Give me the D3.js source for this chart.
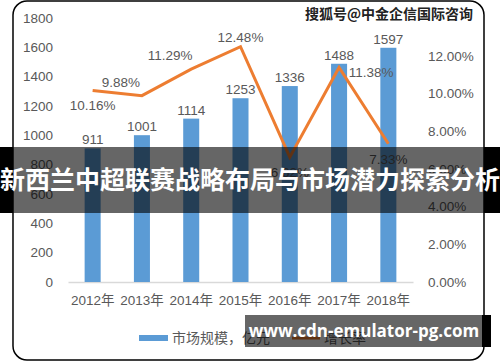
<!DOCTYPE html>
<html>
<head>
<meta charset="utf-8">
<script src="https://cdn.jsdelivr.net/npm/d3@7"></script>
<style>
  body { margin: 0; background: #fff; }
  svg { display: block; }
  text { font-family: "Liberation Sans", "Noto Sans CJK SC", sans-serif; }
</style>
</head>
<body>
<div id="chart"></div>
<script>
const years = ['2012年', '2013年', '2014年', '2015年', '2016年', '2017年', '2018年'];
const marketSize = [911, 1001, 1114, 1253, 1336, 1488, 1597];
const growthRate = [0.1016, 0.0988, 0.1129, 0.1248, 0.0662, 0.1138, 0.0733];
const leftTicks = [0, 200, 400, 600, 800, 1000, 1200, 1400, 1600, 1800];
const rightTicks = [0, 0.02, 0.04, 0.06, 0.08, 0.10, 0.12];
const ratePlacement = ['below', 'left', 'left', 'above', 'below', 'right', 'below'];

const width = 500, height = 362;
const svg = d3.select('#chart').append('svg')
    .attr('width', width)
    .attr('height', height);

// frame
svg.append('rect')
    .attr('x', 13).attr('y', 1)
    .attr('width', 471).attr('height', 359)
    .attr('rx', 14)
    .attr('fill', '#fff')
    .attr('stroke', '#000')
    .attr('stroke-width', 1.5);

const x = d3.scaleBand()
    .domain(years)
    .range([68, 413])
    .paddingInner(0.675)
    .paddingOuter(0.3375);

const yLeft = d3.scaleLinear().domain([0, 1800]).range([282, 18]);
const yRight = d3.scaleLinear().domain([0, 0.14]).range([282, 18]);

const grey = '#595959';

// axes
const leftAxis = svg.append('g')
    .attr('transform', 'translate(53,0)')
    .call(d3.axisLeft(yLeft).tickValues(leftTicks).tickFormat(d3.format('d')).tickSize(0).tickPadding(0));
leftAxis.select('.domain').remove();
leftAxis.selectAll('text').attr('fill', grey).style('font-size', '13.5px');

const rightAxis = svg.append('g')
    .attr('transform', 'translate(428,0)')
    .call(d3.axisRight(yRight).tickValues(rightTicks).tickFormat(d3.format('.2%')).tickSize(0).tickPadding(0));
rightAxis.select('.domain').remove();
rightAxis.selectAll('text').attr('fill', grey).style('font-size', '13.5px');

const bottomAxis = svg.append('g')
    .attr('transform', 'translate(0,282)')
    .call(d3.axisBottom(x).tickSize(0).tickPadding(13));
bottomAxis.select('.domain').attr('stroke', '#d9d9d9').attr('stroke-width', 1.5);
bottomAxis.selectAll('text').attr('fill', grey).style('font-size', '13.5px');

// bars
svg.selectAll('.bar')
    .data(marketSize)
    .enter()
    .append('rect')
    .attr('class', 'bar')
    .attr('x', (d, i) => x(years[i]))
    .attr('y', d => yLeft(d))
    .attr('width', x.bandwidth())
    .attr('height', d => yLeft(0) - yLeft(d))
    .attr('fill', '#5b9bd5');

svg.selectAll('.bar-label')
    .data(marketSize)
    .enter()
    .append('text')
    .attr('class', 'bar-label')
    .attr('x', (d, i) => x(years[i]) + x.bandwidth() / 2)
    .attr('y', d => yLeft(d) - 4)
    .attr('text-anchor', 'middle')
    .attr('fill', grey)
    .style('font-size', '13.5px')
    .text(d => d);

// growth line
const cx = i => x(years[i]) + x.bandwidth() / 2;
const line = d3.line()
    .x((d, i) => cx(i))
    .y(d => yRight(d));

svg.append('path')
    .datum(growthRate)
    .attr('d', line)
    .attr('fill', 'none')
    .attr('stroke', '#ed7d31')
    .attr('stroke-width', 3)
    .attr('stroke-linejoin', 'miter');

const offsets = {
    below: [0, 20],
    above: [0, -5],
    left: [-21, -9],
    right: [32, 10]
};
svg.selectAll('.rate-label')
    .data(growthRate)
    .enter()
    .append('text')
    .attr('class', 'rate-label')
    .attr('x', (d, i) => cx(i) + offsets[ratePlacement[i]][0])
    .attr('y', (d, i) => yRight(d) + offsets[ratePlacement[i]][1])
    .attr('text-anchor', 'middle')
    .attr('fill', grey)
    .style('font-size', '13.5px')
    .text(d => d3.format('.2%')(d));

// legend
const legend = svg.append('g');
legend.append('rect')
    .attr('x', 139).attr('y', 335)
    .attr('width', 29).attr('height', 6)
    .attr('fill', '#5b9bd5');
legend.append('text')
    .attr('x', 172).attr('y', 343)
    .attr('fill', grey)
    .style('font-size', '14px')
    .text('市场规模，亿元');
legend.append('line')
    .attr('x1', 292).attr('x2', 320)
    .attr('y1', 338).attr('y2', 338)
    .attr('stroke', '#ed7d31')
    .attr('stroke-width', 3);
legend.append('text')
    .attr('x', 324).attr('y', 343)
    .attr('fill', grey)
    .style('font-size', '14px')
    .text('增长率');

// source watermark
svg.append('text')
    .attr('x', 473).attr('y', 19)
    .attr('text-anchor', 'end')
    .attr('fill', '#222')
    .style('font-family', '"Noto Sans CJK SC", sans-serif')
    .style('font-size', '14px')
    .style('font-weight', 'bold')
    .text('搜狐号@中金企信国际咨询');

// overlay band
svg.append('rect')
    .attr('x', 0).attr('y', 147)
    .attr('width', 13).attr('height', 66)
    .attr('fill', '#000');
svg.append('rect')
    .attr('x', 484).attr('y', 147)
    .attr('width', 16).attr('height', 66)
    .attr('fill', '#000');
svg.append('rect')
    .attr('x', 13).attr('y', 147)
    .attr('width', 471).attr('height', 66)
    .attr('fill', 'rgba(0,0,0,0.6)');
svg.append('text')
    .attr('x', 250).attr('y', 189)
    .attr('text-anchor', 'middle')
    .attr('fill', '#fff')
    .style('font-family', '"Noto Sans CJK SC", sans-serif')
    .style('font-size', '25px')
    .style('font-weight', 'bold')
    .text('新西兰中超联赛战略布局与市场潜力探索分析');

// url box
svg.append('rect')
    .attr('x', 482).attr('y', 315)
    .attr('width', 9).attr('height', 32)
    .attr('fill', '#000');
svg.append('rect')
    .attr('x', 245).attr('y', 315)
    .attr('width', 237).attr('height', 32)
    .attr('fill', 'rgba(0,0,0,0.6)');
svg.append('text')
    .attr('x', 364).attr('y', 337)
    .attr('text-anchor', 'middle')
    .attr('fill', '#fff')
    .style('font-family', '"Open Sans", sans-serif')
    .style('font-size', '17px')
    .style('font-weight', 'bold')
    .text('www.cdn-emulator-pg.com');
</script>
</body>
</html>
